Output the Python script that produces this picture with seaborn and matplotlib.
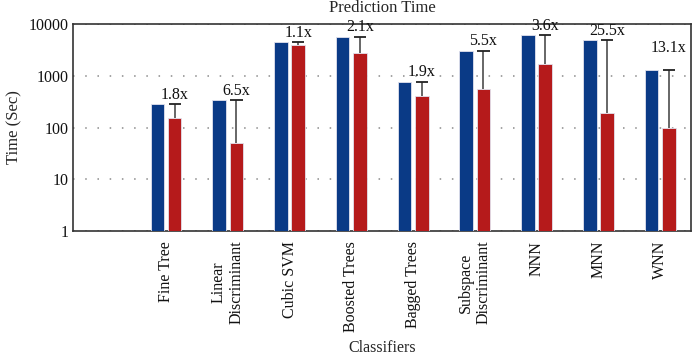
import matplotlib
matplotlib.use("Agg")
import matplotlib.pyplot as plt
import seaborn as sns
import pandas as pd
import numpy as np
from matplotlib.ticker import FixedLocator, FixedFormatter, NullLocator

classifiers = ["Fine Tree", "Linear\nDiscriminant", "Cubic SVM", "Boosted Trees",
               "Bagged Trees", "Subspace\nDiscriminant", "NNN", "MNN", "WNN"]
baseline_time = [281, 340, 4430, 5690, 767, 3050, 6040, 4910, 1291]
proposed_time = [155, 51, 3930, 2710, 401, 547, 1664, 190, 99]
speedup_labels = ["1.8x", "6.5x", "1.1x", "2.1x", "1.9x", "5.5x", "3.6x", "25.5x", "13.1x"]
series_names = ["Baseline", "Proposed"]
y_ticks = [1, 10, 100, 1000, 10000]
y_tick_labels = ["1", "10", "100", "1000", "10000"]

df = pd.DataFrame({
    "Classifier": classifiers * 2,
    "Series": [series_names[0]] * len(classifiers) + [series_names[1]] * len(classifiers),
    "Time": baseline_time + proposed_time,
})

sns.set_style("white")
plt.rcParams["font.family"] = ["Liberation Serif", "DejaVu Serif"]

fig = plt.figure(figsize=(6.92, 3.56), dpi=100)
ax = fig.add_axes([0.106, 0.351, 0.8926, 0.5815])

sns.barplot(data=df, x="Classifier", y="Time", hue="Series", order=classifiers,
            hue_order=series_names, palette=["#0A3A86", "#B51A1B"], saturation=1,
            width=0.56, gap=0.21, errorbar=None, legend=False, ax=ax,
            edgecolor="#e2e2ee", linewidth=0.6, zorder=3)

ax.set_yscale("log")
ax.set_ylim(1, 10000)
ax.set_xlim(-1.5, 8.5)
ax.yaxis.set_major_locator(FixedLocator(y_ticks))
ax.yaxis.set_major_formatter(FixedFormatter(y_tick_labels))
ax.yaxis.set_minor_locator(NullLocator())

ax.grid(axis="y", which="major", color="#8a8a8a", linestyle=(0, (1, 7)), linewidth=1.1, zorder=0)
ax.set_axisbelow(True)

# one-sided error bars (red top up to blue top) + speed-up labels
red_bars = ax.containers[1]
for i, bar in enumerate(red_bars):
    xc = bar.get_x() + bar.get_width() / 2
    w = bar.get_width()
    r = proposed_time[i]
    b = baseline_time[i]
    ax.vlines(xc, r, b, color="#5a5a5a", linewidth=1.3, zorder=4)
    ax.hlines(b, xc - w * 0.45, xc + w * 0.45, color="#222222", linewidth=1.3, zorder=4)
    extra = 9 if i == len(classifiers) - 1 else 0
    ax.annotate(speedup_labels[i], (xc, b), xytext=(0, 1 + extra),
                textcoords="offset points", ha="center", va="bottom", fontsize=11.5,
                color="#111111")

for s in ax.spines.values():
    s.set_visible(True)
    s.set_color("#333333")
    s.set_linewidth(1.2)

ax.tick_params(axis="both", length=0, labelsize=11.5, colors="#111111")
ax.tick_params(axis="x", pad=7)
plt.setp(ax.get_xticklabels(), rotation=90, ha="center", va="top", multialignment="center")

ax.set_xlabel("Classifiers", fontsize=11.5, va="baseline")
ax.xaxis.set_label_coords(0.5, -0.582)
ax.set_ylabel("Time (Sec)", fontsize=12)
ax.yaxis.set_label_coords(-0.083, 0.5)
ax.set_title("Prediction Time", fontsize=12, pad=9)

fig.savefig("out.png", dpi=100)
